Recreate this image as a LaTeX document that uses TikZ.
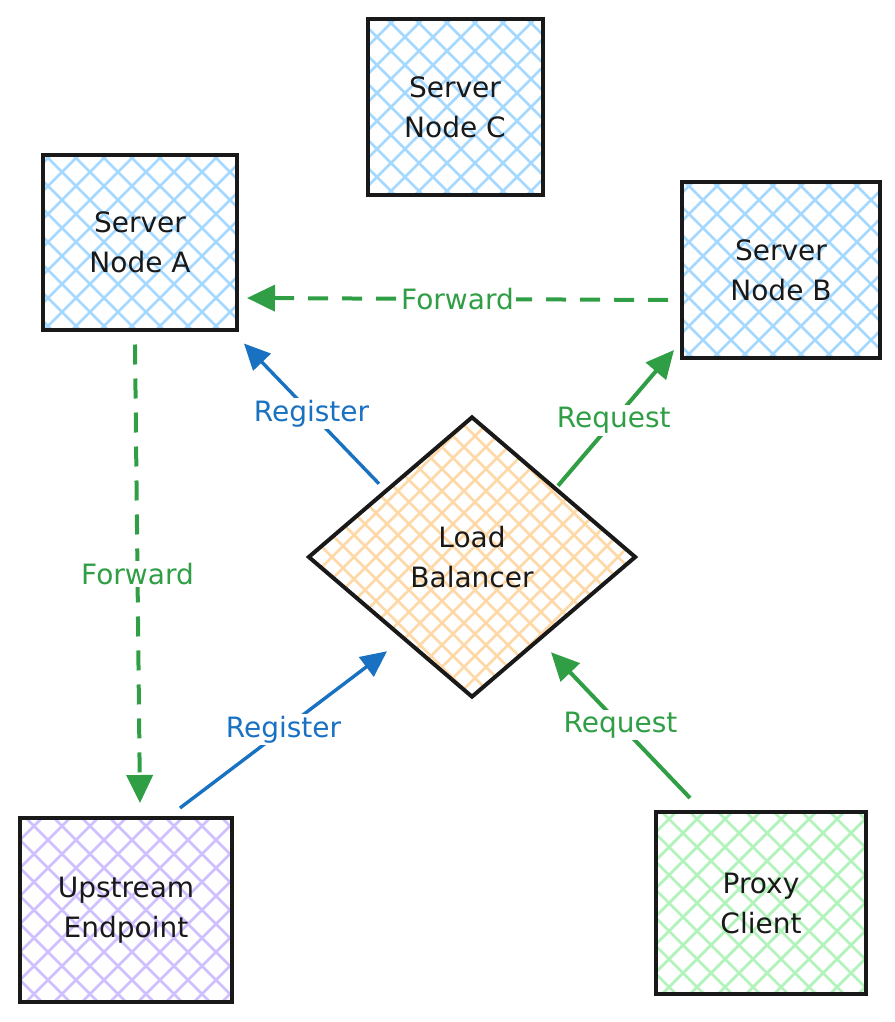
\documentclass[tikz,border=0pt]{standalone}
\usepackage{fontspec}
\setmainfont{DejaVu Sans}
\usetikzlibrary{calc,positioning,shapes.geometric,arrows.meta}

% Colours of the sketch.
\definecolor{lnblue}{HTML}{1971C2}
\definecolor{lngreen}{HTML}{2F9E44}
\definecolor{hblue}{HTML}{A5D8FF}
\definecolor{horange}{HTML}{FFD8A8}
\definecolor{hpurple}{HTML}{D0BFFF}
\definecolor{hgreen}{HTML}{B2F2BB}

\tikzset{
    % cross hatch inside a shape, #1 colour, #2 step along x
    crosshatch/.style 2 args={
        path picture={
            \foreach \k in {-25,...,25} {
                \draw[#1, line width=2.8pt]
                    ($(path picture bounding box.center)+(\k*#2,-300)$)
                    -- ++(600,600);
                \draw[#1, line width=2.8pt]
                    ($(path picture bounding box.center)+(\k*#2,300)$)
                    -- ++(600,-600);
            }
        }},
    % cross hatched box, #1 is the hatch colour
    hatchbox/.style={
        draw=black!90, line width=4pt, crosshatch={#1}{28},
        align=center, text=black!90,
        font=\fontsize{28}{40}\selectfont},
    % finer hatch for the diamond
    hatchdia/.style={
        draw=black!90, line width=4pt, diamond, crosshatch={#1}{22},
        align=center, text=black!90,
        font=\fontsize{28}{40}\selectfont},
    fwdarrow/.style={draw=lngreen, line width=4pt,
        dash pattern=on 20pt off 14pt,
        -{Triangle[length=28pt,width=26pt]}},
    reqarrow/.style={draw=lngreen, line width=4pt,
        -{Triangle[length=28pt,width=26pt]}},
    regarrow/.style={draw=lnblue, line width=3.4pt,
        -{Triangle[length=26pt,width=24pt]}},
    edgelbl/.style={fill=white, inner sep=2pt,
        font=\fontsize{28}{32}\selectfont},
}

\begin{document}
\begin{tikzpicture}[x=1pt,y=-1pt]

% page frame
\useasboundingbox (0,0) rectangle (894,1022);

% Server boxes.
\node[hatchbox=hblue, minimum width=194pt, minimum height=175pt]
    (srvA) at (140,242) {Server\\Node A};
\node[hatchbox=hblue, minimum width=175pt, minimum height=175pt]
    (srvC) at (455,107) {Server\\Node C};
\node[hatchbox=hblue, minimum width=198pt, minimum height=176pt]
    (srvB) at (781,270) {Server\\Node B};

% Load balancer in the middle.
\node[hatchdia=horange, minimum width=328pt, minimum height=281pt]
    (lb) at (472,557) {Load\\Balancer};

% Bottom boxes.
\node[hatchbox=hpurple, minimum width=212pt, minimum height=184pt]
    (upEnd) at (126,910) {Upstream\\Endpoint};
\node[hatchbox=hgreen, minimum width=210pt, minimum height=182pt]
    (proxyCl) at (761,903) {Proxy\\Client};

% Forward from B back to A.
\draw[fwdarrow]
    ($(srvB.west)+(-12,30)$) -- ($(srvA.east)+(8,56)$)
    node[edgelbl, pos=0.5, text=lngreen]{Forward};

% Forward from A down to the endpoint.
\draw[fwdarrow]
    ($(srvA.south)+(-5,13)$) -- ($(upEnd.north)+(14,-13)$)
    node[edgelbl, pos=0.5, text=lngreen]{Forward};

% Register arrows (blue).
\draw[regarrow]
    ($(lb.north west)+(-10,-2)$) -- ($(srvA.south east)+(5,12)$)
    node[edgelbl, pos=0.5, text=lnblue]{Register};
\draw[regarrow]
    ($(upEnd.north east)+(-54,-8)$) -- ($(lb.south west)+(-2,23)$)
    node[edgelbl, pos=0.5, text=lnblue]{Register};

% Request arrows (green).
\draw[reqarrow]
    ($(lb.north east)+(3,0)$) -- ($(srvB.south west)+(-6,-10)$)
    node[edgelbl, pos=0.48, text=lngreen]{Request};
\draw[reqarrow]
    ($(proxyCl.north)+(-71,-12)$) -- ($(lb.south east)+(-4,24)$)
    node[edgelbl, pos=0.5, text=lngreen]{Request};

\end{tikzpicture}
\end{document}
